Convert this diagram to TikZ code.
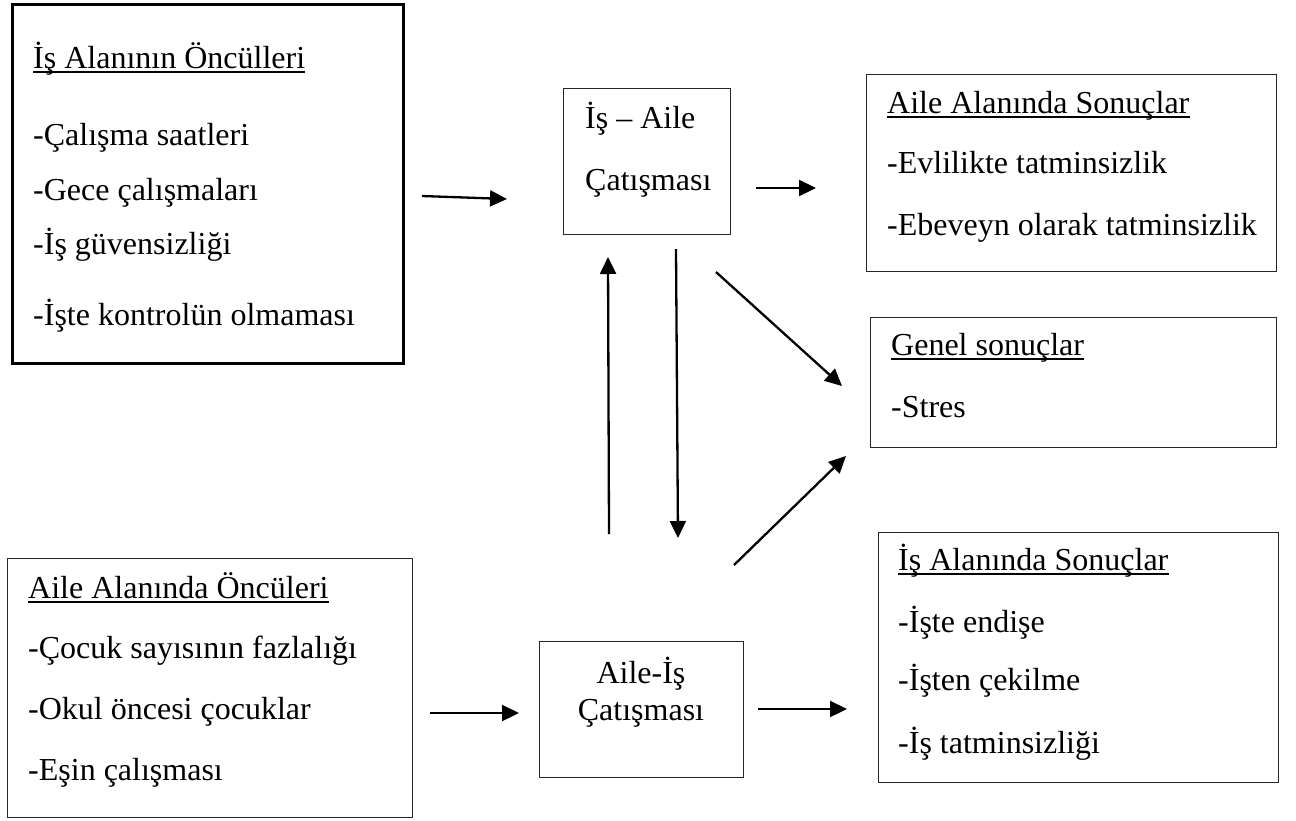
\documentclass[tikz,border=0pt]{standalone}
\usepackage{fontspec}
\setmainfont{Liberation Serif}
\usetikzlibrary{arrows.meta}
\begin{document}
\begin{tikzpicture}[x=1pt,y=-1pt,
  box/.style={draw=black!85, line width=1.3pt, anchor=north west, inner sep=0pt},
  thickbox/.style={box, draw=black, line width=2.6pt},
  txt/.style={anchor=base west, inner sep=0pt, font=\fontsize{32}{38}\selectfont},
  ctxt/.style={txt, anchor=base},
  ul/.style={line width=1.6pt},
  arr/.style={line width=2.3pt, -{Triangle[length=17pt,width=16pt]}}]
\useasboundingbox (0,0) rectangle (1296,820);

% boxes
\node[thickbox, minimum width=391pt, minimum height=359pt] (b1) at (11,3) {};
\node[box, minimum width=167pt, minimum height=146pt] (b2) at (563,88) {};
\node[box, minimum width=410pt, minimum height=197pt] (b3) at (866,74) {};
\node[box, minimum width=406pt, minimum height=130pt] (b4) at (870,317) {};
\node[box, minimum width=405pt, minimum height=259pt] (b5) at (7,558) {};
\node[box, minimum width=204pt, minimum height=136pt] (b6) at (539,641) {};
\node[box, minimum width=400pt, minimum height=250pt] (b7) at (878,532) {};

% box 1
\node[txt] (t1h) at (33,68) {İş Alanının Öncülleri};
\draw[ul] ([yshift=-4pt]t1h.base west) -- ([yshift=-4pt]t1h.base east);
\node[txt] (t1a) at (33,145) {-Çalışma saatleri};
\node[txt] (t1b) at (33,200) {-Gece çalışmaları};
\node[txt] (t1c) at (33,254) {-İş güvensizliği};
\node[txt] (t1d) at (33,325) {-İşte kontrolün olmaması};

% box 2
\node[txt] (t2a) at (585,128) {İş – Aile};
\node[txt] (t2b) at (585,190) {Çatışması};

% box 3
\node[txt] (t3h) at (887,113) {Aile Alanında Sonuçlar};
\draw[ul] ([yshift=-4pt]t3h.base west) -- ([yshift=-4pt]t3h.base east);
\node[txt] (t3a) at (887,173) {-Evlilikte tatminsizlik};
\node[txt] (t3b) at (887,235) {-Ebeveyn olarak tatminsizlik};

% box 4
\node[txt] (t4h) at (891,355) {Genel sonuçlar};
\draw[ul] ([yshift=-4pt]t4h.base west) -- ([yshift=-4pt]t4h.base east);
\node[txt] (t4a) at (891,417) {-Stres};

% box 5
\node[txt] (t5h) at (28,598) {Aile Alanında Öncüleri};
\draw[ul] ([yshift=-4pt]t5h.base west) -- ([yshift=-4pt]t5h.base east);
\node[txt] (t5a) at (28,658) {-Çocuk sayısının fazlalığı};
\node[txt] (t5b) at (28,719) {-Okul öncesi çocuklar};
\node[txt] (t5c) at (28,780) {-Eşin çalışması};

% box 6
\node[ctxt] (t6a) at (641,683) {Aile-İş};
\node[ctxt] (t6b) at (641,720) {Çatışması};

% box 7
\node[txt] (t7h) at (898,570) {İş Alanında Sonuçlar};
\draw[ul] ([yshift=-4pt]t7h.base west) -- ([yshift=-4pt]t7h.base east);
\node[txt] (t7a) at (898,632) {-İşte endişe};
\node[txt] (t7b) at (898,690) {-İşten çekilme};
\node[txt] (t7c) at (898,753) {-İş tatminsizliği};

% arrow end points
\coordinate (a1s) at (422,196); \coordinate (a1e) at (507,199);
\coordinate (a2s) at (756,188); \coordinate (a2e) at (816,188);
\coordinate (a3s) at (609,534); \coordinate (a3e) at (608,257);
\coordinate (a4s) at (676,249); \coordinate (a4e) at (678,538);
\coordinate (a5s) at (716,272); \coordinate (a5e) at (842,386);
\coordinate (a6s) at (734,565); \coordinate (a6e) at (846,456);
\coordinate (a7s) at (430,713); \coordinate (a7e) at (519,713);
\coordinate (a8s) at (758,709); \coordinate (a8e) at (847,709);

\draw[arr] (a1s) -- (a1e);
\draw[arr] (a2s) -- (a2e);
\draw[arr] (a3s) -- (a3e);
\draw[arr] (a4s) -- (a4e);
\draw[arr] (a5s) -- (a5e);
\draw[arr] (a6s) -- (a6e);
\draw[arr] (a7s) -- (a7e);
\draw[arr] (a8s) -- (a8e);
\end{tikzpicture}
\end{document}
